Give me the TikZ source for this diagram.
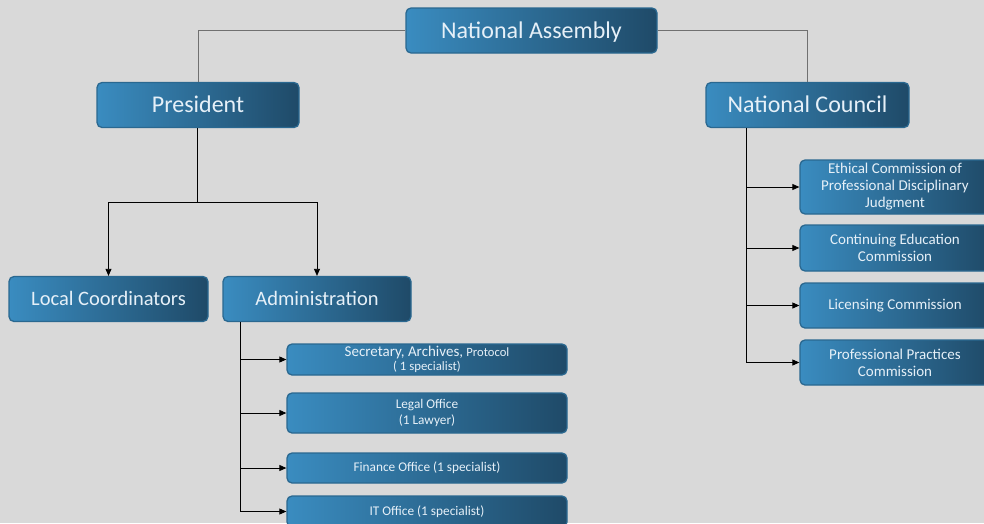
\documentclass[tikz,border=0pt]{standalone}
\usepackage{fontspec}
\setmainfont{Carlito}
\usetikzlibrary{arrows.meta}
\definecolor{bg}{HTML}{D9D9D9}
\definecolor{boxL}{HTML}{3A8CC0}
\definecolor{boxR}{HTML}{1F4A68}
\definecolor{boxB}{HTML}{2A6890}
\definecolor{txt}{HTML}{E6F0F8}
\definecolor{gline}{HTML}{707070}
\tikzset{
  orgbox/.style={draw=boxB, line width=1.3pt, rounded corners=5pt, left color=boxL, right color=boxR,
    text=txt, align=center, inner sep=0pt},
  bigbox/.style={orgbox, minimum width=200pt, minimum height=45pt, text depth=1pt, font=\fontsize{24}{28}\selectfont},
  midbox/.style={orgbox, minimum height=45pt, text depth=1pt, font=\fontsize{20.5}{24}\selectfont},
  combox/.style={orgbox, minimum width=190pt, font=\fontsize{15}{17}\selectfont},
  subbox/.style={orgbox, minimum width=280pt, font=\fontsize{13.3}{16}\selectfont},
  topline/.style={draw=gline, line width=0.8pt},
  arr/.style={draw=black, line width=0.8pt, -{Triangle[length=7pt,width=6pt]}},
  plain/.style={draw=black, line width=0.8pt}
}
\begin{document}
\begin{tikzpicture}[x=1pt,y=-1pt]
\fill[bg] (0,0) rectangle (984,523);
\useasboundingbox (0,0) rectangle (984,523);
\clip (0,0) rectangle (984,523);

\node[bigbox, minimum width=251pt] (na) at (531.5,30.5) {National Assembly};
\node[bigbox, minimum width=202pt] (pr) at (198,105) {President};
\node[bigbox, minimum width=203pt] (nc) at (807.5,105) {National Council};
\node[midbox, minimum width=199pt] (lc) at (108.5,299) {Local Coordinators};
\node[midbox, minimum width=188pt] (ad) at (317,299) {Administration};

\node[combox, minimum height=54pt] (c1) at (895,187) {Ethical Commission of\\Professional Disciplinary\\Judgment};
\node[combox, minimum height=46pt] (c2) at (895,248) {Continuing Education\\Commission};
\node[combox, minimum height=45pt] (c3) at (895,305.5) {Licensing Commission};
\node[combox, minimum height=45pt] (c4) at (895,362.5) {Professional Practices\\Commission};

\node[subbox, minimum height=31pt] (s1) at (427,359.5) {\raisebox{-1.5pt}{\fontsize{15}{16}\selectfont Secretary, Archives, {\fontsize{12.6}{16}\selectfont Protocol}}\\{\fontsize{12.8}{16}\selectfont ( 1 specialist)}};
\node[subbox, minimum height=40pt] (s2) at (427,413) {Legal Office\\(1 Lawyer)};
\node[subbox, minimum height=30pt] (s3) at (427,468) {Finance Office (1 specialist)};
\node[subbox, minimum height=31pt] (s4) at (427,511.5) {IT Office (1 specialist)};

% top connectors
\draw[topline] (na.west) -| (pr.north);
\draw[topline] (na.east) -| (nc.north);

% president branch
\coordinate (pj) at (197,202);
\draw[plain] (pr.south -| pj) -- (pj);
\draw[arr] (pj) -| (lc.north);
\draw[arr] (pj) -| (ad.north);

% administration branch
\coordinate (at) at (240,322);
\coordinate (ab) at (240,511.5);
\draw[plain] (at) -- (ab);
\draw[arr] (at |- s1.west) -- (s1.west);
\draw[arr] (at |- s2.west) -- (s2.west);
\draw[arr] (at |- s3.west) -- (s3.west);
\draw[arr] (ab) -- (s4.west);

% national council branch
\coordinate (nt) at (746,128);
\coordinate (nb) at (746,362.5);
\draw[plain] (nt) -- (nb);
\draw[arr] (nt |- c1.west) -- (c1.west);
\draw[arr] (nt |- c2.west) -- (c2.west);
\draw[arr] (nt |- c3.west) -- (c3.west);
\draw[arr] (nb) -- (c4.west);
\end{tikzpicture}
\end{document}
